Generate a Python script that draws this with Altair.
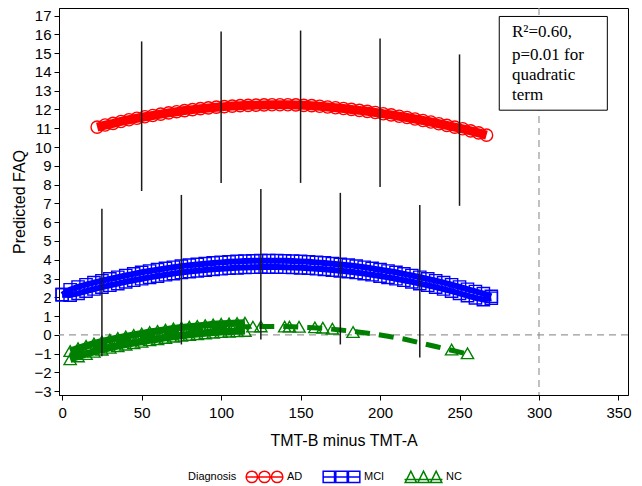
import altair as alt
import pandas as pd

# ---------------- data ----------------
ad_x = [22, 27, 32, 37, 42, 47, 52, 57, 62, 67, 72, 77, 82, 87, 92, 97, 102, 107, 112, 117,
        122, 127, 132, 137, 142, 147, 152, 157, 162, 167, 172, 177, 182, 187, 192, 197, 202,
        207, 212, 217, 222, 227, 232, 237, 242, 247, 252, 257, 262, 267]
ad_y = [11.06, 11.17, 11.26, 11.36, 11.45, 11.53, 11.61, 11.68, 11.75, 11.82, 11.88, 11.94,
        11.99, 12.04, 12.08, 12.12, 12.15, 12.18, 12.20, 12.22, 12.23, 12.24, 12.25, 12.25,
        12.25, 12.24, 12.22, 12.20, 12.17, 12.13, 12.09, 12.05, 12.00, 11.95, 11.90, 11.84,
        11.77, 11.71, 11.64, 11.57, 11.49, 11.41, 11.33, 11.24, 11.15, 11.06, 10.97, 10.86,
        10.75, 10.63]

mci_x = [0, 5, 10, 15, 20, 25, 30, 35, 40, 45, 50, 55, 60, 65, 70, 75, 80, 85, 90, 95, 100,
         105, 110, 115, 120, 125, 130, 135, 140, 145, 150, 155, 160, 165, 170, 175, 180, 185,
         190, 195, 200, 205, 210, 215, 220, 225, 230, 235, 240, 245, 250, 255, 260, 265, 270]
mci_hi = [2.14, 2.40, 2.55, 2.67, 2.78, 2.88, 2.98, 3.07, 3.16, 3.25, 3.33, 3.40, 3.47, 3.54,
          3.60, 3.66, 3.71, 3.75, 3.79, 3.83, 3.86, 3.89, 3.91, 3.93, 3.94, 3.95, 3.95, 3.95,
          3.94, 3.93, 3.91, 3.89, 3.86, 3.83, 3.79, 3.75, 3.71, 3.66, 3.60, 3.54, 3.47, 3.40,
          3.33, 3.25, 3.16, 3.07, 2.98, 2.88, 2.78, 2.67, 2.55, 2.43, 2.31, 2.20, 2.05]
mci_lo = [2.14, 2.12, 2.21, 2.33, 2.44, 2.54, 2.64, 2.73, 2.82, 2.91, 2.99, 3.06, 3.13, 3.20,
          3.26, 3.32, 3.37, 3.41, 3.45, 3.49, 3.52, 3.55, 3.57, 3.59, 3.60, 3.61, 3.61, 3.61,
          3.60, 3.59, 3.57, 3.55, 3.52, 3.49, 3.45, 3.41, 3.37, 3.32, 3.26, 3.20, 3.13, 3.06,
          2.99, 2.91, 2.82, 2.73, 2.64, 2.54, 2.44, 2.33, 2.21, 2.09, 1.97, 1.88, 1.95]

nc_x = [5, 10, 15, 20, 25, 30, 35, 40, 45, 50, 55, 60, 65, 70, 75, 80, 85, 90, 95, 100, 105,
        110, 115]
nc_hi = [-0.86, -0.71, -0.58, -0.46, -0.35, -0.25, -0.16, -0.08, 0.00, 0.07, 0.15, 0.21,
         0.28, 0.34, 0.39, 0.44, 0.48, 0.52, 0.56, 0.59, 0.61, 0.63, 0.65]
nc_lo = [-1.30, -1.15, -1.02, -0.90, -0.79, -0.69, -0.60, -0.52, -0.44, -0.37, -0.29, -0.23,
         -0.16, -0.10, -0.05, 0.00, 0.04, 0.08, 0.12, 0.15, 0.17, 0.19, 0.21]
nc_sparse_x = [120, 125, 140, 143, 149, 159, 164, 170, 183, 245, 255]
nc_sparse_y = [0.44, 0.45, 0.44, 0.44, 0.43, 0.40, 0.38, 0.33, 0.15, -0.78, -0.98]

nc_line_x = [5, 15, 25, 35, 45, 55, 65, 75, 85, 95, 105, 115, 125, 135, 145, 155, 165, 175,
             185, 195, 205, 215, 225, 235, 245, 255]
nc_line_y = [-1.08, -0.80, -0.57, -0.38, -0.22, -0.07, 0.06, 0.17, 0.26, 0.34, 0.39, 0.43,
             0.45, 0.45, 0.43, 0.39, 0.34, 0.26, 0.17, 0.06, -0.07, -0.22, -0.42, -0.62,
             -0.82, -1.02]

eb_x = [50, 100, 150, 200, 250, 25, 75, 125, 175, 225]
eb_lo = [7.66, 8.09, 8.09, 7.87, 6.87, -1.14, -0.51, -0.24, -0.51, -1.20]
eb_hi = [15.62, 16.15, 16.20, 15.78, 14.93, 6.71, 7.45, 7.77, 7.56, 6.92]

groups = ["AD", "MCI", "NC"]
colors = ["#FF0000", "#0000FF", "#008000"]
shapes = ["circle", "square", "triangle-up"]
# legend symbols: three markers joined by a line, as in the reference legend
legend_paths = [
    "M-3,0H3M-2.9,0A0.9,0.9 0 1,0 -1.1,0A0.9,0.9 0 1,0 -2.9,0ZM-0.9,0A0.9,0.9 0 1,0 0.9,0"
    "A0.9,0.9 0 1,0 -0.9,0ZM1.1,0A0.9,0.9 0 1,0 2.9,0A0.9,0.9 0 1,0 1.1,0Z",
    "M-3,0H3M-2.9,-0.9H-1.1V0.9H-2.9ZM-0.9,-0.9H0.9V0.9H-0.9ZM1.1,-0.9H2.9V0.9H1.1Z",
    "M-3,0.4H3M-2.9,0.9L-2,-0.9L-1.1,0.9ZM-0.9,0.9L0,-0.9L0.9,0.9ZM1.1,0.9L2,-0.9L2.9,0.9Z",
]

note_lines = ["R\u00b2=0.60,", "p=0.01 for", "quadratic", "term"]
note_y = [16.10, 14.88, 13.82, 12.76]
note_x = 283
box = {"x": [275], "x2": [343], "y": [11.96], "y2": [16.95]}

# ---------------- build tables ----------------
pts = pd.concat([
    pd.DataFrame({"x": ad_x, "y": ad_y, "Diagnosis": "AD"}),
    pd.DataFrame({"x": mci_x, "y": mci_hi, "Diagnosis": "MCI"}),
    pd.DataFrame({"x": mci_x, "y": mci_lo, "Diagnosis": "MCI"}),
    pd.DataFrame({"x": nc_x, "y": nc_hi, "Diagnosis": "NC"}),
    pd.DataFrame({"x": nc_x, "y": nc_lo, "Diagnosis": "NC"}),
    pd.DataFrame({"x": nc_sparse_x, "y": nc_sparse_y, "Diagnosis": "NC"}),
], ignore_index=True)

band_lines = pd.concat([
    pd.DataFrame({"x": ad_x, "y": ad_y, "s": "AD", "Diagnosis": "AD", "w": 9}),
    pd.DataFrame({"x": mci_x, "y": mci_hi, "s": "MCI hi", "Diagnosis": "MCI", "w": 6}),
    pd.DataFrame({"x": mci_x, "y": mci_lo, "s": "MCI lo", "Diagnosis": "MCI", "w": 6}),
    pd.DataFrame({"x": nc_x, "y": nc_hi, "s": "NC hi", "Diagnosis": "NC", "w": 7}),
    pd.DataFrame({"x": nc_x, "y": nc_lo, "s": "NC lo", "Diagnosis": "NC", "w": 7}),
], ignore_index=True)

nc_line = pd.DataFrame({"x": nc_line_x, "y": nc_line_y})
ebars = pd.DataFrame({"x": eb_x, "lo": eb_lo, "hi": eb_hi})
notes = pd.DataFrame({"t": note_lines, "y": note_y, "x": note_x})
legend_df = pd.DataFrame({"Diagnosis": groups})

xs = alt.Scale(domain=[-2, 356], nice=False, zero=False)
ys = alt.Scale(domain=[-3.2, 17.4], nice=False, zero=False)
XT = "TMT-B minus TMT-A"
YT = "Predicted FAQ"

x_axis = alt.Axis(values=[0, 50, 100, 150, 200, 250, 300, 350], title=XT, labelOverlap=False)
y_axis = alt.Axis(values=list(range(-3, 18)), title=YT, labelOverlap=False)


def X(f="x"):
    return alt.X(f"{f}:Q", scale=xs, axis=x_axis)


def Y(f="y"):
    return alt.Y(f"{f}:Q", scale=ys, axis=y_axis)


leg = alt.Legend(title="Diagnosis", orient="none", legendX=129, legendY=461,
                 direction="horizontal", titleOrient="left",
                 titleFontWeight="normal", titleFontSize=11,
                 labelFontSize=11, symbolSize=160, symbolStrokeWidth=1.5,
                 labelOffset=15, columnPadding=16, titlePadding=20,
                 titleFont="Liberation Sans", labelFont="Liberation Sans",
                 titleColor="black", labelColor="black", symbolFillColor="transparent")

base_ref = alt.Chart(pd.DataFrame({"y": [0]})).mark_rule(
    color="#999999", strokeDash=[7, 5], strokeWidth=1.2
).encode(y=Y())

vref = alt.Chart(pd.DataFrame({"x": [300]})).mark_rule(
    color="#999999", strokeDash=[7, 5], strokeWidth=1.2
).encode(x=X())

blines = alt.Chart(band_lines).mark_line().encode(
    x=X(), y=Y(),
    detail="s:N",
    strokeWidth=alt.StrokeWidth("w:Q", scale=None, legend=None),
    color=alt.Color("Diagnosis:N", scale=alt.Scale(domain=groups, range=colors), legend=None),
)

ncl = alt.Chart(nc_line).mark_line(color="#008000", strokeWidth=5, strokeDash=[15, 9]).encode(
    x=X(), y=Y(),
)

points = alt.Chart(pts).mark_point(filled=False, strokeWidth=1.4, size=150, opacity=1).encode(
    x=X(), y=Y(),
    color=alt.Color("Diagnosis:N", scale=alt.Scale(domain=groups, range=colors), legend=None),
    shape=alt.Shape("Diagnosis:N", scale=alt.Scale(domain=groups, range=shapes), legend=None),
)

legend_layer = alt.Chart(legend_df).mark_point(filled=False, opacity=0).encode(
    color=alt.Color("Diagnosis:N", scale=alt.Scale(domain=groups, range=colors), legend=leg),
    shape=alt.Shape("Diagnosis:N", scale=alt.Scale(domain=groups, range=legend_paths), legend=leg),
)

bars = alt.Chart(ebars).mark_rule(color="#1a1a1a", strokeWidth=1.5).encode(
    x=X(), y=Y("lo"), y2="hi:Q",
)

boxl = alt.Chart(pd.DataFrame(box)).mark_rect(fill="white", stroke="black", strokeWidth=1).encode(
    x=X(), x2="x2:Q", y=Y(), y2="y2:Q",
)

txt = alt.Chart(notes).mark_text(align="left", baseline="middle", font="Liberation Serif",
                                 fontSize=17, color="black").encode(
    x=X(), y=Y(), text="t:N",
)

chart = alt.layer(base_ref, vref, blines, ncl, points, bars, boxl, txt, legend_layer).resolve_scale(
    color="independent", shape="independent"
).properties(
    width=569, height=387,
    autosize=alt.AutoSizeParams(type="none"),
    padding={"left": 51, "top": 0, "right": 6, "bottom": 91},
).configure_view(stroke="black", strokeWidth=1).configure_axis(
    grid=False, labelFont="Liberation Sans", labelFontSize=15, labelColor="black",
    titleFont="Liberation Sans", titleFontSize=16, titleFontWeight="normal", titleColor="black",
    domainColor="black", tickColor="black", tickSize=5, labelPadding=3,
).configure_axisY(titlePadding=6).configure_axisX(titlePadding=12, labelPadding=5)

chart.save("out.html", embed_options={"renderer": "svg", "actions": False})
